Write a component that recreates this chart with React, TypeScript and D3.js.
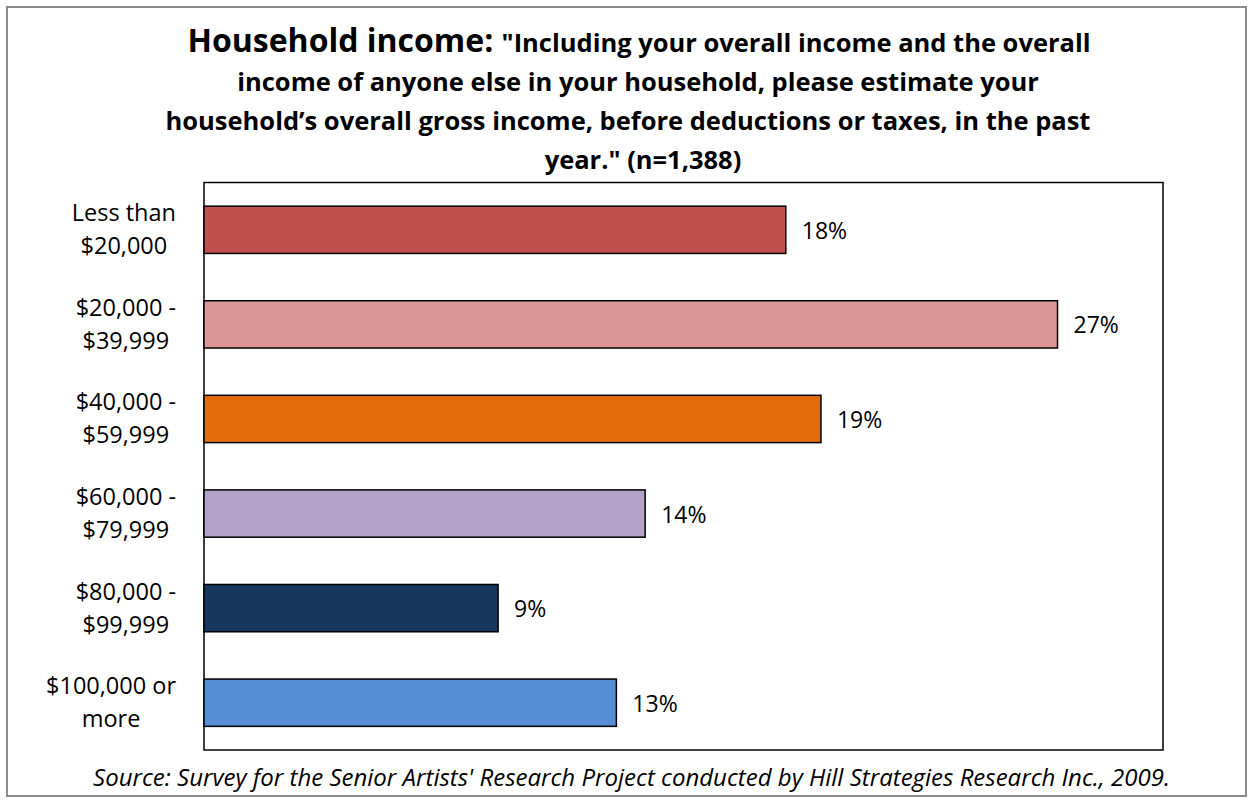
import React, { useEffect, useRef } from "react";
import * as d3 from "d3";

const categories: string[][] = [
  ["Less than", "$20,000"],
  ["$20,000 -", "$39,999"],
  ["$40,000 -", "$59,999"],
  ["$60,000 -", "$79,999"],
  ["$80,000 -", "$99,999"],
  ["$100,000 or", "more"],
];
const values: number[] = [18.2, 26.7, 19.3, 13.8, 9.2, 12.9];
const barColors: string[] = ["#C0504D", "#D99694", "#E46C0A", "#B3A2C7", "#17375E", "#558ED5"];
const xDomainMax = 30;

const titleLead = "Household income: ";
const titleLines: string[] = [
  "\"Including your overall income and the overall",
  "income of anyone else in your household, please estimate your",
  "household\u2019s overall gross income, before deductions or taxes, in the past",
  "year.\" (n=1,388)",
];
const sourceText =
  "Source: Survey for the Senior Artists' Research Project conducted by Hill Strategies Research Inc., 2009.";

const W = 1253;
const H = 803;
const FONT = "'Open Sans', 'DejaVu Sans', sans-serif";

export default function App() {
  const ref = useRef<SVGSVGElement | null>(null);

  useEffect(() => {
    const svg = d3.select(ref.current);
    svg.selectAll("*").remove();

    // outer border
    svg
      .append("rect")
      .attr("x", 7)
      .attr("y", 7)
      .attr("width", W - 14)
      .attr("height", H - 14)
      .attr("fill", "#fff")
      .attr("stroke", "#8c8c8c")
      .attr("stroke-width", 2);

    // title
    const titleCenters = [639, 638, 628, 643];
    const titleBaselines = [52, 91, 130, 169];
    titleLines.forEach((line, i) => {
      const t = svg
        .append("text")
        .attr("x", titleCenters[i])
        .attr("y", titleBaselines[i])
        .attr("text-anchor", "middle")
        .attr("font-family", FONT)
        .attr("font-weight", "bold")
        .attr("font-size", 25.5)
        .attr("fill", "#000");
      if (i === 0) {
        t.append("tspan").attr("font-size", 32).text(titleLead);
      }
      t.append("tspan").text(line);
    });

    const plot = { left: 204, top: 182.5, right: 1163, bottom: 750 };

    const x = d3.scaleLinear().domain([0, xDomainMax]).range([plot.left, plot.right]);
    const y = d3
      .scaleBand<number>()
      .domain(d3.range(categories.length))
      .range([plot.top, plot.bottom])
      .paddingInner(0.5)
      .paddingOuter(0.25);

    // plot area border
    svg
      .append("rect")
      .attr("x", plot.left)
      .attr("y", plot.top)
      .attr("width", plot.right - plot.left)
      .attr("height", plot.bottom - plot.top)
      .attr("fill", "none")
      .attr("stroke", "#000")
      .attr("stroke-width", 1.5);

    // bars
    svg
      .selectAll("rect.bar")
      .data(values)
      .enter()
      .append("rect")
      .attr("class", "bar")
      .attr("x", x(0))
      .attr("y", (_d, i) => y(i)!)
      .attr("width", (d) => x(d) - x(0))
      .attr("height", y.bandwidth())
      .attr("fill", (_d, i) => barColors[i])
      .attr("stroke", "#000")
      .attr("stroke-width", 1.5);

    // value labels
    svg
      .selectAll("text.val")
      .data(values)
      .enter()
      .append("text")
      .attr("class", "val")
      .attr("x", (d) => x(d) + 16)
      .attr("y", (_d, i) => y(i)! + y.bandwidth() / 2 + 9)
      .attr("font-family", FONT)
      .attr("font-size", 23)
      .attr("fill", "#000")
      .text((d) => `${Math.round(d)}%`);

    // category labels: block right-aligned at 176, lines centred within block
    const labelRight = 176;
    categories.forEach((lines, i) => {
      const cy = y(i)! + y.bandwidth() / 2;
      const g = svg.append("g");
      const texts = lines.map((ln, j) =>
        g
          .append("text")
          .attr("y", cy + 8 + (j - (lines.length - 1) / 2) * 33)
          .attr("text-anchor", "middle")
          .attr("font-family", FONT)
          .attr("font-size", 23.5)
          .attr("fill", "#000")
          .text(ln)
      );
      const widths = texts.map((t) => (t.node() as SVGTextElement).getComputedTextLength());
      const maxW = Math.max(...widths);
      texts.forEach((t) => t.attr("x", labelRight - maxW / 2));
    });

    // source
    svg
      .append("text")
      .attr("x", 631.5)
      .attr("y", 786)
      .attr("text-anchor", "middle")
      .attr("font-family", FONT)
      .attr("font-style", "italic")
      .attr("font-size", 24)
      .attr("fill", "#000")
      .text(sourceText);
  }, []);

  return (
    <svg
      ref={ref}
      width={W}
      height={H}
      style={{ position: "absolute", left: 0, top: 0, background: "#fff" }}
    />
  );
}
